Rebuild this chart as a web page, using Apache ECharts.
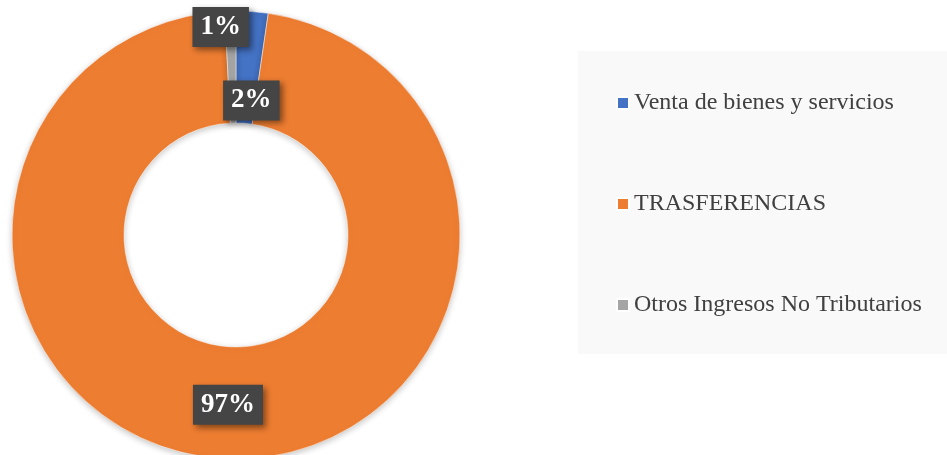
<!DOCTYPE html>
<html>
<head>
<meta charset="utf-8">
<script src="https://cdn.jsdelivr.net/npm/echarts@6/dist/echarts.min.js"></script>
<style>
  html, body { margin: 0; padding: 0; background: #ffffff; }
  #chart { width: 947px; height: 455px; }
</style>
</head>
<body>
<div id="chart"></div>
<script>
// income shares (percent)
const categories = ['Venta de bienes y servicios', 'TRASFERENCIAS', 'Otros Ingresos No Tributarios']
const values = [2.3, 96.9, 0.8]
const colors = ['#4472C4', '#ED7D31', '#A5A5A5']

// labels were dragged off the slice centre in the original, nudge them back there
const labelNudge = [[3, 36], [0, -1], [-11, -37]]

const myChart = echarts.init(document.getElementById('chart'))

const option = {
  backgroundColor: '#ffffff',
  animation: false,
  color: colors,
  legend: {
    orient: 'vertical',
    left: 578,
    top: 51,
    padding: [40, 27, 37, 38],
    backgroundColor: '#f9f9f9',
    itemGap: 77,
    itemWidth: 12,
    itemHeight: 12,
    icon: 'rect',
    selectedMode: false,
    textStyle: {
      fontFamily: 'Liberation Serif',
      fontSize: 24,
      lineHeight: 24,
      color: '#404040',
    },
    data: categories,
  },
  series: [
    {
      type: 'pie',
      center: [236, 235],
      radius: [112, 224],
      startAngle: 90,
      clockwise: true,
      silent: true,
      avoidLabelOverlap: false,
      itemStyle: {
        borderColor: '#ffffff',
        borderWidth: 0.5,
        shadowBlur: 6,
        shadowOffsetY: 2,
        shadowColor: 'rgba(0, 0, 0, 0.22)',
      },
      label: {
        show: true,
        position: 'inside',
        formatter: (p) => Math.round(p.value) + '%',
        fontFamily: 'Liberation Serif',
        fontWeight: 'bold',
        fontSize: 27,
        lineHeight: 26,
        color: '#ffffff',
        backgroundColor: '#454545',
        padding: [7, 8, 7, 8],
        shadowBlur: 6,
        shadowOffsetX: 3,
        shadowOffsetY: 3,
        shadowColor: 'rgba(0, 0, 0, 0.45)',
      },
      labelLine: { show: false },
      labelLayout: (params) => ({
        dx: labelNudge[params.dataIndex][0],
        dy: labelNudge[params.dataIndex][1],
      }),
      data: categories.map((name, i) => ({ name: name, value: values[i] })),
    },
  ],
}

myChart.setOption(option)
</script>
</body>
</html>
